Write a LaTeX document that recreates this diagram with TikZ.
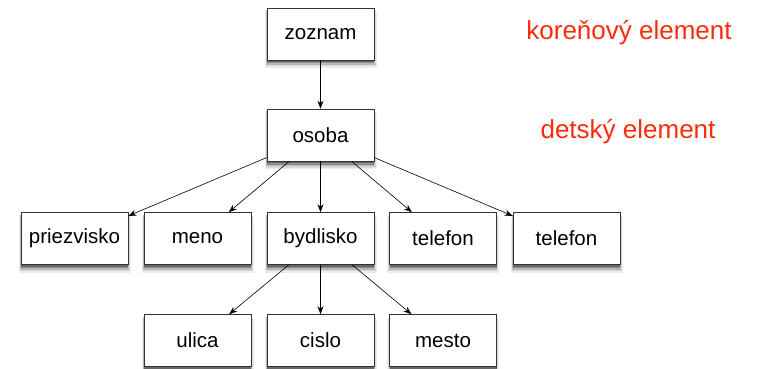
\documentclass[tikz,border=0pt]{standalone}
\usepackage{fontspec}
\setmainfont{Liberation Sans}
\usetikzlibrary{arrows.meta,calc}
\definecolor{lbl}{RGB}{250,45,10}
\tikzset{
  box/.style={draw=black!80, line width=0.6pt, fill=white, minimum width=107pt, minimum height=52pt, inner sep=0pt,
    font=\fontsize{20.5}{24}\selectfont},
  shd/.style={draw=none},
  conn/.style={-{Stealth[length=8pt,width=6pt]}, line width=0.6pt},
  lab/.style={text=lbl, font=\fontsize{26}{30}\selectfont, inner sep=0pt}
}
\newcommand{\shadowbox}[1]{%
  \fill[shd,black!7] ($(#1)+(-56,-22)$) rectangle ($(#1)+(56,34)$);
  \fill[shd,black!15] ($(#1)+(-55,-23)$) rectangle ($(#1)+(55,32.5)$);
  \fill[shd,black!28] ($(#1)+(-54.2,-24)$) rectangle ($(#1)+(54.2,31)$);
  \fill[shd,black!45] ($(#1)+(-53.5,-24)$) rectangle ($(#1)+(53.5,29.5)$);
  \fill[shd,black!60] ($(#1)+(-53.5,-24)$) rectangle ($(#1)+(53.5,28)$);
}
\begin{document}
\begin{tikzpicture}[x=1pt,y=-1pt]
\useasboundingbox (0,0) rectangle (758,369);
\coordinate (pzoznam) at (320.5,34);
\coordinate (posoba) at (320.5,135);
\coordinate (ppriezvisko) at (74.5,238.5);
\coordinate (pmeno) at (197.5,238.5);
\coordinate (pbydlisko) at (320.5,238.5);
\coordinate (ptelefon1) at (443,238.5);
\coordinate (ptelefon2) at (566.5,238.5);
\coordinate (pulica) at (197.5,340.5);
\coordinate (pcislo) at (320.5,340.5);
\coordinate (pmesto) at (443,340.5);
\foreach \n in {zoznam,osoba,priezvisko,meno,bydlisko,telefon1,telefon2,ulica,cislo,mesto} {\shadowbox{p\n}}
\node[box] (zoznam) at (pzoznam) {zoznam};
\node[box] (osoba) at (posoba) {osoba};
\node[box] (priezvisko) at (ppriezvisko) {priezvisko};
\node[box] (meno) at (pmeno) {meno};
\node[box] (bydlisko) at (pbydlisko) {bydlisko};
\node[box] (telefon1) at (ptelefon1) {telefon};
\node[box] (telefon2) at (ptelefon2) {telefon};
\node[box] (ulica) at (pulica) {ulica};
\node[box] (cislo) at (pcislo) {cislo};
\node[box] (mesto) at (pmesto) {mesto};
\node[lab] (root) at (629,33) {koreňový element};
\node[lab] (child) at (628,132) {detský element};
\draw[conn] (zoznam) -- (osoba);
\foreach \t in {priezvisko,meno,bydlisko,telefon1,telefon2} \draw[conn] (osoba) -- (\t);
\foreach \t in {ulica,cislo,mesto} \draw[conn] (bydlisko) -- (\t);
\end{tikzpicture}
\end{document}
